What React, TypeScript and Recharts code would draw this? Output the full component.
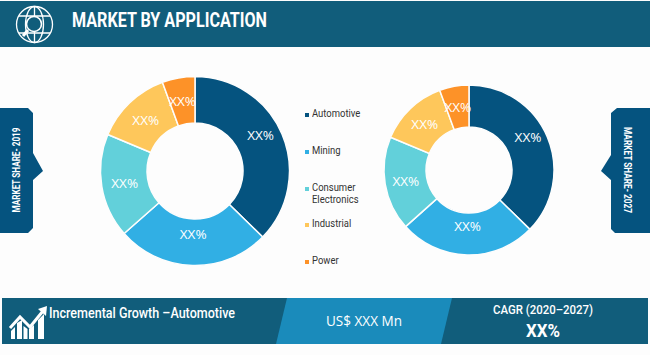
import { Customized, Legend, Pie, PieChart, Cell } from 'recharts';

const categories = ['Automotive', 'Mining', 'Consumer Electronics', 'Industrial', 'Power'];
const share2019 = [37.3, 26.2, 17.8, 13.1, 5.6];
const share2027 = [37.3, 26.1, 17.9, 13.1, 5.6];
const sliceLabels = ['XX%', 'XX%', 'XX%', 'XX%', 'XX%'];
const colors = ['#05537f', '#31afe4', '#62d0da', '#fec75b', '#fd9228'];

const data2019 = categories.map((name, i) => ({ name, value: share2019[i], label: sliceLabels[i], nudge: i < 2 ? -8 : 0 }));
const data2027 = categories.map((name, i) => ({ name, value: share2027[i], label: sliceLabels[i], nudge: i < 2 ? -8 : 0 }));

const RAD = Math.PI / 180;
const condensed = 'Roboto, sans-serif';

const sliceLabel = (p: any) => {
  const r = (p.innerRadius + p.outerRadius) / 2;
  const x = p.cx + r * Math.cos(-p.midAngle * RAD);
  const y = p.cy + r * Math.sin(-p.midAngle * RAD) + p.payload.nudge;
  return (
    <text x={x} y={y} textAnchor="middle" dominantBaseline="central" fontFamily="'Open Sans', sans-serif" fontWeight={400} fontSize={13.5} fill="#fff" stroke="none">
      {p.payload.label}
    </text>
  );
};

const LegendRows = () => (
  <div style={{ fontFamily: condensed, fontSize: 10.5, color: '#333', width: 70 }}>
    {categories.map((name, i) => (
      <div key={name} style={{ display: 'flex', height: i === 2 ? 36 : 37, alignItems: 'flex-start' }}>
        <span style={{ width: 4, height: 4, background: colors[i], marginTop: 5, marginRight: 3, flex: 'none' }} />
        <span style={{ lineHeight: '12px', transform: 'scaleX(0.9)', transformOrigin: 'left', display: 'block', width: 62 }}>{name}</span>
      </div>
    ))}
  </div>
);

const Chrome = () => (
  <g>
    <rect x={0} y={0} width={650} height={355} fill="#fdfdfd" />
    <rect x={0} y={1} width={650} height={46} fill="#115d7b" />
    <g fill="none" stroke="#fff" strokeWidth={1.3}>
      <circle cx={34.5} cy={24.5} r={18} />
      <ellipse cx={34.5} cy={24.5} rx={9} ry={18} />
      <path d="M19 16H50M19 33H50M34.5 7V42" />
      <circle cx={34} cy={24} r={7.5} fill="#115d7b" strokeWidth={1.6} />
      <path d="M28 30L23 36" strokeWidth={3} />
    </g>
    <text x={72} y={27} fontFamily={condensed} fontWeight={700} fontSize={20} fill="#fff" textLength={195} lengthAdjust="spacingAndGlyphs">
      MARKET BY APPLICATION
    </text>

    <path d="M0 108H28L33 113V153L43 171L33 180V228L28 233H0Z" fill="#05537f" />
    <path d="M650 108H617L611 113V155L601 171L611 180V229L615 233H650Z" fill="#05537f" />
    <text transform="translate(20,170) rotate(-90)" textAnchor="middle" fontFamily={condensed} fontWeight={700} fontSize={10.5} fill="#fff" textLength={85} lengthAdjust="spacingAndGlyphs">
      MARKET SHARE- 2019
    </text>
    <text transform="translate(624,170) rotate(90)" textAnchor="middle" fontFamily={condensed} fontWeight={700} fontSize={10.5} fill="#fff" textLength={86} lengthAdjust="spacingAndGlyphs">
      MARKET SHARE- 2027
    </text>

    <rect x={2} y={298} width={646} height={46} fill="#115d7b" />
    <path d="M287 298H452L441 344H276Z" fill="#1a8bbb" />
    <g fill="#fff">
      <path d="M11 339V331L15 327V339ZM17 339V323L22 320V339ZM23.5 339V326L27.5 329V339ZM29 339V329L34 325V339ZM38 339V320L44 314V339Z" />
      <path d="M10 328L20 317L30 327L43 311" fill="none" stroke="#fff" strokeWidth={3} />
      <path d="M38 309L47 306L46 316Z" />
    </g>
    <text x={49} y={318} fontFamily={condensed} fontWeight={500} fontSize={15} fill="#fff" textLength={186} lengthAdjust="spacingAndGlyphs">
      Incremental Growth –Automotive
    </text>
    <text x={326} y={326} fontFamily="'Open Sans', sans-serif" fontSize={14} fill="#fff" textLength={76} lengthAdjust="spacingAndGlyphs">
      US$ XXX Mn
    </text>
    <text x={493} y={314} fontFamily={condensed} fontWeight={500} fontSize={13} fill="#fff" textLength={100} lengthAdjust="spacingAndGlyphs">
      CAGR (2020–2027)
    </text>
    <text x={526} y={337} fontFamily={condensed} fontWeight={700} fontSize={19} fill="#fff" textLength={34} lengthAdjust="spacingAndGlyphs">
      XX%
    </text>
  </g>
);

const App = () => (
  <div style={{ position: 'absolute', left: 0, top: 0 }}>
    <PieChart width={650} height={355} margin={{ top: 0, right: 0, bottom: 0, left: 0 }}>
      <Customized component={Chrome} />
      <Pie
        data={data2019}
        dataKey="value"
        cx={195}
        cy={171}
        innerRadius={48}
        outerRadius={94.5}
        startAngle={90}
        endAngle={-270}
        stroke="#fdfdfd"
        strokeWidth={1.5}
        label={sliceLabel}
        labelLine={false}
        isAnimationActive={false}
      >
        {colors.map((c) => (
          <Cell key={c} fill={c} />
        ))}
      </Pie>
      <Pie
        data={data2027}
        dataKey="value"
        cx={469}
        cy={170}
        innerRadius={43}
        outerRadius={85}
        startAngle={90}
        endAngle={-270}
        stroke="#fdfdfd"
        strokeWidth={1.5}
        label={sliceLabel}
        labelLine={false}
        isAnimationActive={false}
      >
        {colors.map((c) => (
          <Cell key={c} fill={c} />
        ))}
      </Pie>
      <Legend content={<LegendRows />} wrapperStyle={{ left: 305, top: 108, width: 70, bottom: 'auto' }} />
    </PieChart>
  </div>
);

export default App;
